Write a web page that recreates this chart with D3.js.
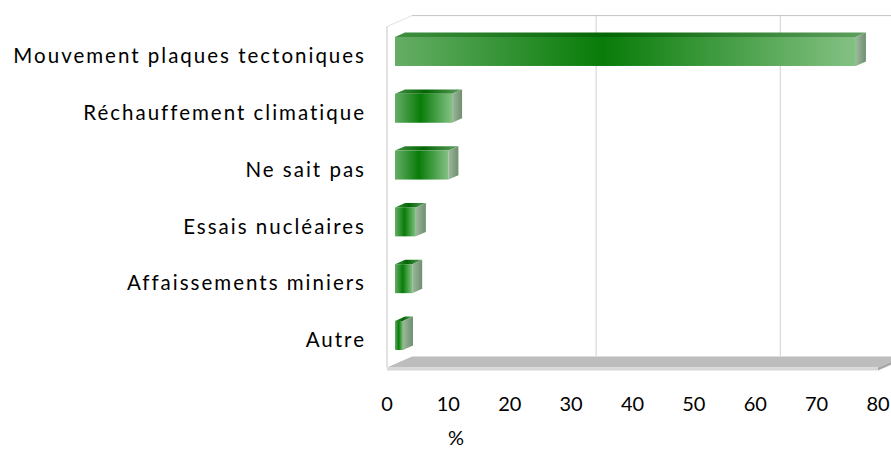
<!DOCTYPE html>
<html>
<head>
<meta charset="utf-8">
<script src="https://cdn.jsdelivr.net/npm/d3@7"></script>
<style>
    body { margin: 0; background: #fff; }
    svg { display: block; }
    .cat { font-family: Lato, "Open Sans", sans-serif; font-size: 20.5px; fill: #000; letter-spacing: 2px; }
    .tick { font-family: Lato, "Open Sans", sans-serif; font-size: 20px; fill: #000; }
</style>
</head>
<body>
<script>
(function() {
    // chart data
    var categories = [
        "Mouvement plaques tectoniques",
        "Réchauffement climatique",
        "Ne sait pas",
        "Essais nucléaires",
        "Affaissements miniers",
        "Autre"
    ];
    var values = [75.1, 9.3, 8.7, 3.4, 2.8, 1.3];
    var tickValues = [0, 10, 20, 30, 40, 50, 60, 70, 80];
    var gridValues = [30, 60];
    var axisTitle = "%";

    // layout settings
    var settings = {
        width: 891,
        height: 450,
        depthX: 25,
        depthY: -11,
        barFront: 0.32,
        barBack: 0.72
    };

    var svg = d3.select("body").append("svg")
        .attr("width", settings.width)
        .attr("height", settings.height);

    var x = d3.scaleLinear().domain([0, 80]).range([387, 878]);
    var y = d3.scaleBand().domain(categories).range([26.6, 367.4])
        .paddingInner(0.49).paddingOuter(0.245);

    var dx = settings.depthX, dy = settings.depthY;
    var top = y.range()[0], bottom = y.range()[1];

    // gradients
    var defs = svg.append("defs");
    var front = defs.append("linearGradient").attr("id", "barFront");
    [[0, "#66ad66"], [0.45, "#087c08"], [1, "#84c184"]].forEach(function(s) {
        front.append("stop").attr("offset", s[0]).attr("stop-color", s[1]);
    });
    var topG = defs.append("linearGradient").attr("id", "barTop");
    [[0, "#3f8f3f"], [0.45, "#046604"], [1, "#5f9f5f"]].forEach(function(s) {
        topG.append("stop").attr("offset", s[0]).attr("stop-color", s[1]);
    });
    var side = defs.append("linearGradient").attr("id", "barSide");
    [[0, "#9bb89b"], [1, "#6f8f6f"]].forEach(function(s) {
        side.append("stop").attr("offset", s[0]).attr("stop-color", s[1]);
    });

    // back wall gridlines
    svg.selectAll(".grid")
        .data(gridValues)
        .enter().append("line")
        .attr("x1", function(d) { return x(d) + dx; })
        .attr("x2", function(d) { return x(d) + dx; })
        .attr("y1", top + dy)
        .attr("y2", bottom + dy)
        .attr("stroke", "#d0d0d0")
        .attr("stroke-width", 1);

    // wall outline
    svg.append("line")
        .attr("x1", x(0) + dx).attr("x2", x(80) + dx)
        .attr("y1", top + dy).attr("y2", top + dy)
        .attr("stroke", "#c4c4c4");
    svg.append("line")
        .attr("x1", x(0)).attr("x2", x(0) + dx)
        .attr("y1", top).attr("y2", top + dy)
        .attr("stroke", "#e2e2e2");
    svg.append("line")
        .attr("x1", x(0)).attr("x2", x(0))
        .attr("y1", top).attr("y2", bottom)
        .attr("stroke", "#c4c4c4");

    function pts(arr) {
        return arr.map(function(p) { return p.join(","); }).join(" ");
    }

    // floor
    svg.append("polygon")
        .attr("points", pts([[x(0), bottom], [x(80), bottom], [x(80) + dx, bottom + dy], [x(0) + dx, bottom + dy]]))
        .attr("fill", "#bdbdbd");
    svg.append("polygon")
        .attr("points", pts([[x(0), bottom], [x(80), bottom], [x(80), bottom + 3], [x(0), bottom + 3]]))
        .attr("fill", "#d8d8d8");
    svg.append("polygon")
        .attr("points", pts([[x(80), bottom], [x(80) + dx, bottom + dy], [x(80) + dx, bottom + dy + 3], [x(80), bottom + 3]]))
        .attr("fill", "#a8a8a8");

    // bars
    var fx = settings.barFront * dx, fy = settings.barFront * dy;
    var ox = (settings.barBack - settings.barFront) * dx;
    var oy = (settings.barBack - settings.barFront) * dy;

    var g = svg.selectAll(".bar")
        .data(values)
        .enter().append("g")
        .classed("bar", true);

    g.append("polygon")
        .attr("points", function(d, i) {
            var x0 = x(0) + fx, x1 = x(d) + fx, y0 = y(categories[i]) + fy;
            return pts([[x0, y0], [x0 + ox, y0 + oy], [x1 + ox, y0 + oy], [x1, y0]]);
        })
        .attr("fill", "url(#barTop)");

    g.append("polygon")
        .attr("points", function(d, i) {
            var x1 = x(d) + fx, y0 = y(categories[i]) + fy, y1 = y0 + y.bandwidth();
            return pts([[x1, y0], [x1 + ox, y0 + oy], [x1 + ox, y1 + oy], [x1, y1]]);
        })
        .attr("fill", "url(#barSide)");

    g.append("rect")
        .attr("x", x(0) + fx)
        .attr("y", function(d, i) { return y(categories[i]) + fy; })
        .attr("width", function(d) { return x(d) - x(0); })
        .attr("height", y.bandwidth())
        .attr("fill", "url(#barFront)");

    // category labels
    svg.selectAll(".cat")
        .data(categories)
        .enter().append("text")
        .classed("cat", true)
        .attr("x", 366)
        .attr("y", function(d) { return y(d) + y.bandwidth() / 2 + 1; })
        .attr("dy", "0.35em")
        .attr("text-anchor", "end")
        .text(function(d) { return d; });

    // value axis labels
    svg.selectAll(".tick")
        .data(tickValues)
        .enter().append("text")
        .classed("tick", true)
        .attr("x", function(d) { return x(d); })
        .attr("y", 411)
        .attr("text-anchor", "middle")
        .text(function(d) { return d; });

    svg.append("text")
        .classed("tick", true)
        .attr("x", 456)
        .attr("y", 445)
        .attr("text-anchor", "middle")
        .text(axisTitle);
})();
</script>
</body>
</html>
